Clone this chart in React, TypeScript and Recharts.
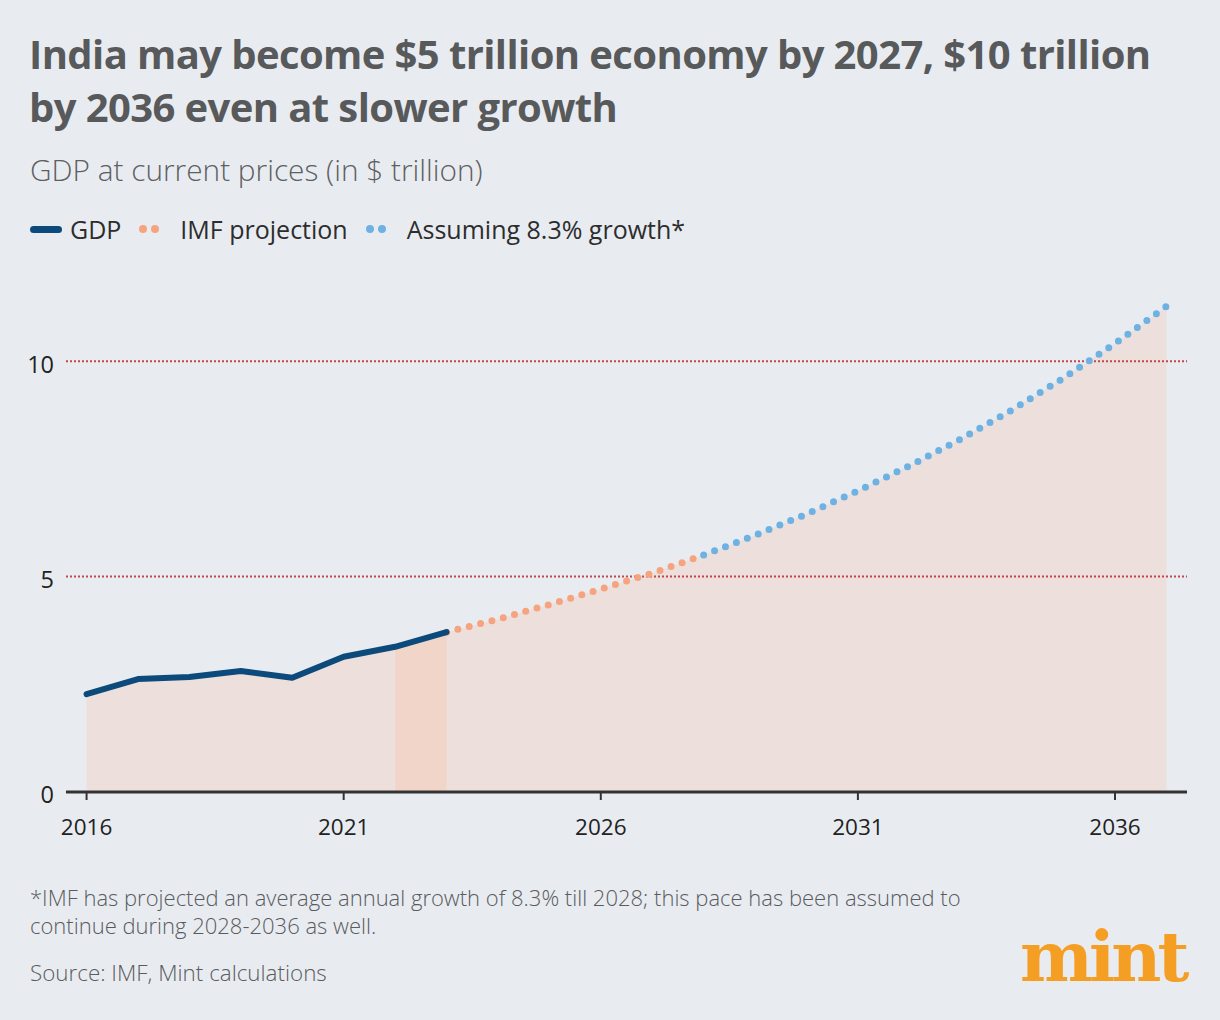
import {
  ComposedChart,
  Area,
  Line,
  XAxis,
  YAxis,
  ReferenceLine,
} from "recharts";

const years = [2016, 2017, 2018, 2019, 2020, 2021, 2022, 2023, 2024, 2025, 2026, 2027, 2028, 2029, 2030, 2031, 2032, 2033, 2034, 2035, 2036, 2037];
// actual GDP, 2016-2023
const gdpValues = [2.27, 2.62, 2.67, 2.81, 2.65, 3.14, 3.37, 3.71];
// IMF projection, 2023-2028
const imfValues = [3.71, 4.01, 4.35, 4.71, 5.08, 5.5];
// assuming 8.3% growth, 2028-2037
const assumedValues = [5.5, 5.96, 6.45, 6.99, 7.57, 8.19, 8.87, 9.61, 10.41, 11.27];
const bandYears = [2022, 2023];
const xTicks = [2016, 2021, 2026, 2031, 2036];
const yTicks = [0, 5, 10];

const BG = "#e8ecf1";
const FONT = "'Open Sans', 'Noto Sans', sans-serif";

const chartData = years.map((year, i) => {
  const gdp = i < gdpValues.length ? gdpValues[i] : null;
  const imfIdx = i - 7;
  const imf = imfIdx >= 0 && imfIdx < imfValues.length ? imfValues[imfIdx] : null;
  const projIdx = i - 12;
  const proj = projIdx >= 0 && projIdx < assumedValues.length ? assumedValues[projIdx] : null;
  const total = gdp ?? imf ?? proj;
  return {
    year,
    gdp,
    imf,
    proj,
    total,
    band: bandYears.includes(year) ? gdp : null,
  };
});

const LegendDots = ({ color }: { color: string }) => (
  <span style={{ display: "inline-flex", gap: 4, marginRight: 21 }}>
    <span style={{ width: 8, height: 8, borderRadius: 4, background: color }} />
    <span style={{ width: 8, height: 8, borderRadius: 4, background: color }} />
  </span>
);

const App = () => {
  return (
    <div
      style={{
        position: "absolute",
        left: 0,
        top: 0,
        width: 1220,
        height: 1020,
        background: BG,
        fontFamily: FONT,
        overflow: "hidden",
      }}
    >
      <div
        style={{
          position: "absolute",
          left: 29,
          top: 27,
          width: 1190,
          fontSize: 40,
          lineHeight: "53px",
          fontWeight: 700,
          color: "#58595b",
          letterSpacing: -0.6,
        }}
      >
        India may become $5 trillion economy by 2027, $10 trillion
        <br />
        by 2036 even at slower growth
      </div>
      <div
        style={{
          position: "absolute",
          left: 30,
          top: 149,
          fontSize: 29.8,
          fontWeight: 300,
          color: "#5e5f61",
        }}
      >
        GDP at current prices (in $ trillion)
      </div>
      <div
        style={{
          position: "absolute",
          left: 30,
          top: 212,
          fontSize: 25,
          color: "#2d2d2d",
          display: "flex",
          alignItems: "center",
        }}
      >
        <span style={{ width: 32, height: 7, borderRadius: 4, background: "#0b4a7b", marginRight: 8 }} />
        <span style={{ marginRight: 18 }}>GDP</span>
        <LegendDots color="#f6a47f" />
        <span style={{ marginRight: 18 }}>IMF projection</span>
        <LegendDots color="#6db2e3" />
        <span>Assuming 8.3% growth*</span>
      </div>

      <div style={{ position: "absolute", left: 0, top: 250 }}>
        <ComposedChart
          width={1220}
          height={600}
          data={chartData}
          margin={{ top: 25, right: 33, bottom: 8, left: 6 }}
        >
          <XAxis
            dataKey="year"
            type="number"
            domain={[2015.6, 2037.4]}
            ticks={xTicks}
            allowDataOverflow
            height={50}
            axisLine={{ stroke: "#333", strokeWidth: 3 }}
            tickLine={{ stroke: "#333", strokeWidth: 2 }}
            tickSize={8}
            tickMargin={19}
            tick={{ fill: "#222", fontSize: 22.5, fontFamily: FONT }}
          />
          <YAxis
            type="number"
            domain={[0, 12]}
            ticks={yTicks}
            width={60}
            axisLine={false}
            tickLine={false}
            tickSize={0}
            tickMargin={12}
            tick={{ fill: "#222", fontSize: 23.5, fontFamily: FONT, dy: 3 }}
          />
          <Area
            dataKey="total"
            type="linear"
            stroke="none"
            fill="#eddfdc"
            fillOpacity={1}
            isAnimationActive={false}
          />
          <Area
            dataKey="band"
            type="linear"
            stroke="none"
            fill="#f2d5c9"
            fillOpacity={1}
            isAnimationActive={false}
          />
          <ReferenceLine y={5} stroke="#c0474a" strokeWidth={2} strokeDasharray="2 2" />
          <ReferenceLine y={10} stroke="#c0474a" strokeWidth={2} strokeDasharray="2 2" />
          <Line
            dataKey="imf"
            type="linear"
            stroke="#f6a47f"
            strokeWidth={7}
            strokeDasharray="0 11.7"
            strokeLinecap="round"
            dot={false}
            activeDot={false}
            isAnimationActive={false}
          />
          <Line
            dataKey="proj"
            type="linear"
            stroke="#6db2e3"
            strokeWidth={7}
            strokeDasharray="0 11.7"
            strokeLinecap="round"
            dot={false}
            activeDot={false}
            isAnimationActive={false}
          />
          <Line
            dataKey="gdp"
            type="linear"
            stroke="#0b4a7b"
            strokeWidth={6}
            strokeLinecap="round"
            strokeLinejoin="round"
            dot={false}
            activeDot={false}
            isAnimationActive={false}
          />
        </ComposedChart>
      </div>

      <div
        style={{
          position: "absolute",
          left: 30,
          top: 883,
          fontSize: 22,
          lineHeight: "28px",
          color: "#5a5b5d",
          fontWeight: 300,
        }}
      >
        *IMF has projected an average annual growth of 8.3% till 2028; this pace has been assumed to
        <br />
        continue during 2028-2036 as well.
      </div>
      <div
        style={{
          position: "absolute",
          left: 30,
          top: 957,
          fontSize: 22.4,
          color: "#5a5b5d",
          fontWeight: 300,
        }}
      >
        Source: IMF, Mint calculations
      </div>
      <div
        style={{
          position: "absolute",
          left: 1020,
          top: 922,
          fontSize: 69,
          lineHeight: "69px",
          fontWeight: 700,
          fontFamily: "'DejaVu Serif', serif",
          color: "#f59e24",
          letterSpacing: -4,
        }}
      >
        mint
      </div>
    </div>
  );
};

export default App;
